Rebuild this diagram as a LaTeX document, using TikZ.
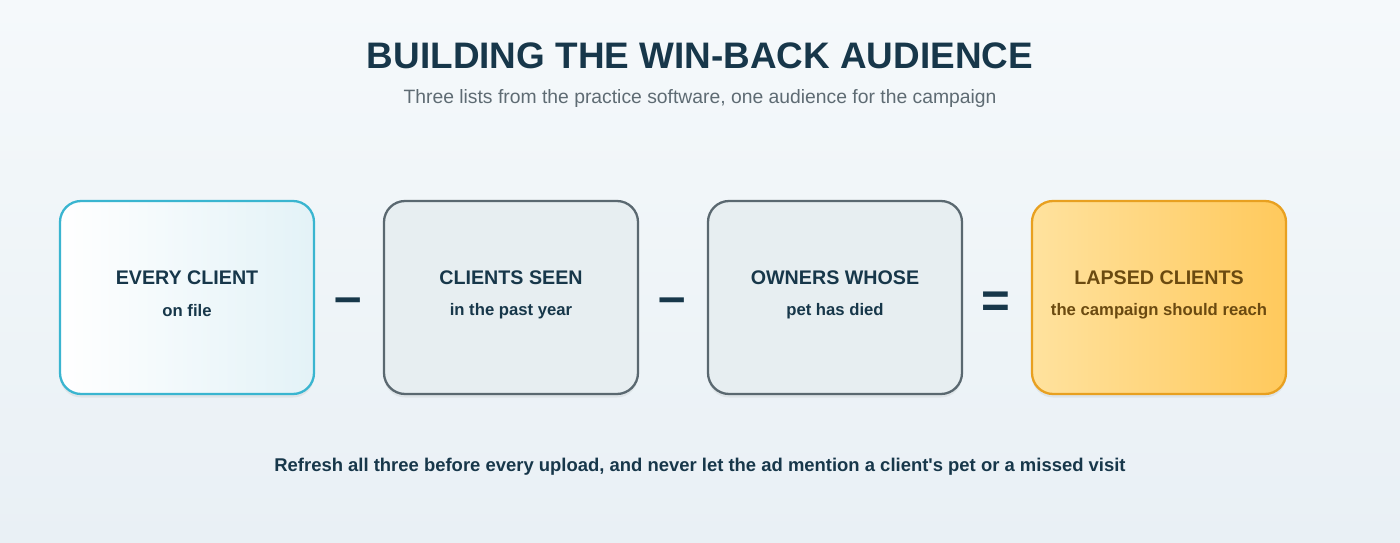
\documentclass[tikz,border=0pt]{standalone}
\usepackage{fontspec}
\setmainfont{Liberation Sans}
\usetikzlibrary{positioning,shadows}
\definecolor{navy}{HTML}{17374A}
\definecolor{subgrey}{HTML}{5E6B73}
\definecolor{cyanline}{HTML}{3AB5D0}
\definecolor{cyanfill}{HTML}{E3F2F7}
\definecolor{greyfill}{HTML}{E7EEF1}
\definecolor{greyline}{HTML}{5A6870}
\definecolor{goldline}{HTML}{E8A020}
\definecolor{goldtext}{HTML}{6B4A10}
\definecolor{goldA}{HTML}{FFE29E}
\definecolor{goldB}{HTML}{FFC95C}
\definecolor{bgtop}{HTML}{F5F9FB}
\definecolor{bgbot}{HTML}{E9F0F5}
\newlength{\pxu}\setlength{\pxu}{0.02cm}
\tikzset{
  stage/.style={draw, line width=1.3pt, rounded corners=12pt, minimum width=254\pxu, minimum height=193\pxu,
    drop shadow={shadow xshift=0pt, shadow yshift=-2pt, opacity=.12}},
  head/.style={font=\bfseries\fontsize{11.2}{13}\selectfont, text=navy},
  sub/.style={font=\bfseries\fontsize{9.5}{11}\selectfont, text=navy},
  op/.style={font=\bfseries\fontsize{28}{28}\selectfont, text=navy},
}
\begin{document}
\begin{tikzpicture}[x=0.02cm,y=-0.02cm]
  \shade[top color=bgtop, bottom color=bgbot] (0,0) rectangle (1400,543);
  \useasboundingbox (0,0) rectangle (1400,543);
  \node[font=\bfseries\fontsize{21}{25}\selectfont, text=navy] (title) at (700,56) {BUILDING THE WIN-BACK AUDIENCE};
  \node[font=\fontsize{11}{13}\selectfont, text=subgrey] (subtitle) at (700,99) {Three lists from the practice software, one audience for the campaign};
  % the four lists
  \node[stage, draw=cyanline, left color=white, right color=cyanfill] (every) at (187,297.5) {};
  \node[stage, draw=greyline, fill=greyfill] (seen) at (511,297.5) {};
  \node[stage, draw=greyline, fill=greyfill] (died) at (835,297.5) {};
  \node[stage, draw=goldline, left color=goldA, right color=goldB] (lapsed) at (1159,297.5) {};
  \node[head] at (187,278) {EVERY CLIENT};
  \node[sub] at (187,311) {on file};
  \node[head] at (511,278) {CLIENTS SEEN};
  \node[sub] at (511,311) {in the past year};
  \node[head] at (835,278) {OWNERS WHOSE};
  \node[sub] at (835,311) {pet has died};
  \node[head, text=goldtext] at (1159,278) {LAPSED CLIENTS};
  \node[sub, text=goldtext] at (1159,311) {the campaign should reach};
  % operators
  \node[op] (minusA) at (348,306) {--};
  \node[op] (minusB) at (672,306) {--};
  \node[op] (equals) at (996,305) {=};
  \node[font=\bfseries\fontsize{10.5}{13}\selectfont, text=navy] (note) at (700,467) {Refresh all three before every upload, and never let the ad mention a client\textquotesingle s pet or a missed visit};
\end{tikzpicture}
\end{document}
